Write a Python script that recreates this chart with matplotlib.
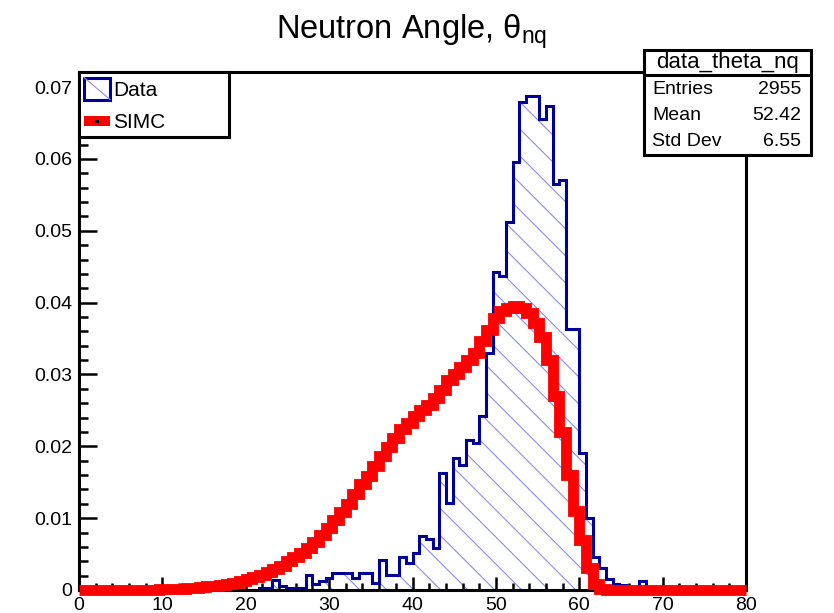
import numpy as np
import matplotlib.pyplot as plt
from matplotlib.patches import Rectangle, PathPatch
from matplotlib.path import Path
from matplotlib.collections import LineCollection
from matplotlib.ticker import MultipleLocator, FuncFormatter

plt.rcParams['font.family'] = ['Liberation Sans', 'DejaVu Sans']
plt.rcParams['mathtext.fontset'] = 'custom'
plt.rcParams['mathtext.rm'] = 'Liberation Sans'
plt.rcParams['mathtext.it'] = 'Liberation Sans:italic'

# 100 bins, 0 -> 80 deg
bin_edges = np.linspace(0, 80, 101)

# Data, normalised
data_theta_nq = [
    0, 0, 0, 0, 0, 0, 0, 0, 0, 0,
    0, 0, 0, 0, 0, 0, 0, 0, 0, 0,
    0, 0, 0, 0, 0, 0, 0, 0.0003, 0.0003, 0.0014,
    0.0006, 0.0003, 0.0003, 0.0003, 0.0021, 0.0009, 0.0013, 0.0017, 0.0023, 0.0024,
    0.0024, 0.0017, 0.0023, 0.0023, 0.0010, 0.0042, 0.0021, 0.0021, 0.0046, 0.0037,
    0.0051, 0.0075, 0.0071, 0.0059, 0.0163, 0.0121, 0.0184, 0.0174, 0.0209, 0.0205,
    0.0242, 0.0330, 0.0443, 0.0437, 0.0512, 0.0596, 0.0679, 0.0687, 0.0687, 0.0655,
    0.0674, 0.0565, 0.0570, 0.0363, 0.0363, 0.0191, 0.0100, 0.0046, 0.0030, 0.0016,
    0.0008, 0.0007, 0.0003, 0.0003, 0.0013, 0, 0, 0, 0, 0,
    0, 0, 0, 0, 0, 0, 0, 0, 0, 0,
]

# SIMC, normalised
simc_theta_nq = [
    0, 0, 0, 0, 0, 0, 0, 0, 0, 0,
    0, 0, 0.0001, 0.0001, 0.0002, 0.0002, 0.0003, 0.0003, 0.0004, 0.0005,
    0.0006, 0.0007, 0.0009, 0.0010, 0.0012, 0.0015, 0.0018, 0.0021, 0.0025, 0.0029,
    0.0034, 0.0040, 0.0046, 0.0052, 0.0059, 0.0067, 0.0076, 0.0086, 0.0097, 0.0108,
    0.0120, 0.0133, 0.0147, 0.0159, 0.0173, 0.0186, 0.0199, 0.0212, 0.0224, 0.0233,
    0.0242, 0.0250, 0.0258, 0.0267, 0.0278, 0.0292, 0.0300, 0.0310, 0.0320, 0.0330,
    0.0347, 0.0362, 0.0378, 0.0388, 0.0393, 0.0395, 0.0393, 0.0385, 0.0372, 0.0352,
    0.0320, 0.0270, 0.0220, 0.0160, 0.0110, 0.0070, 0.0030, 0.0008, 0.0002, 0,
    0, 0, 0, 0, 0, 0, 0, 0, 0, 0,
    0, 0, 0, 0, 0, 0, 0, 0, 0, 0,
]

legend_labels = ["Data", "SIMC"]
stat_title = "data_theta_nq"
stat_labels = ["Entries", "Mean", "Std Dev"]
stat_values = ["2955", "52.42", "6.55"]

W, H = 834, 613
blue = '#000099'
red = '#ff0000'
hatch_col = '#8c8cf0'


def frac(x0, y0, x1, y1):
    # pixel box (top-left origin) -> figure fraction
    return [x0 / W, 1 - y1 / H, (x1 - x0) / W, (y1 - y0) / H]


fig = plt.figure(figsize=(W / 100, H / 100), dpi=100)
ax = fig.add_axes(frac(79, 72, 746, 590))

ymax = 0.0721
ax.set_xlim(0, 80)
ax.set_ylim(0, ymax)

# hatched fill under the data histogram
xs = np.repeat(bin_edges, 2)
ys = np.concatenate([[0], np.repeat(data_theta_nq, 2), [0]])
clip = PathPatch(Path(np.column_stack([xs, ys])), transform=ax.transData,
                 facecolor='none', edgecolor='none')
ax.add_patch(clip)

px_x = 667 / 80
px_y = 518 / ymax
k = px_x / px_y
step = 27 / px_y
cs = np.arange(0, ymax + 80 * k + step, step) + 0.4 * step
segs = [[(0, c), (80, c - 80 * k)] for c in cs]
hatch = LineCollection(segs, colors=hatch_col, linewidths=0.8, zorder=1)
ax.add_collection(hatch)
hatch.set_clip_path(clip)

h1 = ax.stairs(data_theta_nq, bin_edges, color=blue, linewidth=2.2, baseline=0, zorder=2)
h2 = ax.stairs(simc_theta_nq, bin_edges, color=red, linewidth=7.8, baseline=0, zorder=3)
h2.set_clip_on(False)
for h in (h1, h2):
    h.set_joinstyle('miter')
    h.set_capstyle('butt')

ax.xaxis.set_major_locator(MultipleLocator(10))
ax.xaxis.set_minor_locator(MultipleLocator(2))
ax.yaxis.set_major_locator(MultipleLocator(0.01))
ax.yaxis.set_minor_locator(MultipleLocator(0.002))
ax.xaxis.set_major_formatter(FuncFormatter(lambda v, p: f'{v:.0f}'))
ax.yaxis.set_major_formatter(FuncFormatter(lambda v, p: '0' if abs(v) < 1e-9 else f'{v:.2f}'))
ax.tick_params(axis='both', which='both', direction='in', top=False, right=False,
               width=1.8, labelsize=14)
ax.tick_params(axis='x', which='major', length=9.5, pad=5)
ax.tick_params(axis='x', which='minor', length=5)
ax.tick_params(axis='y', which='major', length=13, pad=5)
ax.tick_params(axis='y', which='minor', length=6.5)
for s in ax.spines.values():
    s.set_linewidth(2.2)

# title
fig.text(412 / W, 1 - 39 / H, r'Neutron Angle, $\mathrm{\theta}_{\mathrm{nq}}$',
         ha='center', va='baseline', fontsize=23.5)

# legend box
leg = fig.add_axes(frac(79, 72, 229, 137))
leg.set_xlim(0, 150)
leg.set_ylim(65, 0)
leg.set_xticks([])
leg.set_yticks([])
for s in leg.spines.values():
    s.set_linewidth(2.2)
leg.add_patch(Rectangle((5, 5.5), 26, 22, facecolor='white', edgecolor=blue, lw=2.2))
leg.plot([5, 31], [5.5, 27.5], color=hatch_col, lw=0.8)
leg.text(34, 18, legend_labels[0], va='center', fontsize=15)
leg.add_patch(Rectangle((5, 44), 26, 10, facecolor=red, edgecolor='none'))
leg.add_patch(Rectangle((16, 47.5), 3.5, 3, facecolor='black', edgecolor='none'))
leg.text(34, 50, legend_labels[1], va='center', fontsize=15)

# stats box
st = fig.add_axes(frac(644, 50, 811, 155))
st.set_xlim(0, 167)
st.set_ylim(105, 0)
st.set_xticks([])
st.set_yticks([])
for s in st.spines.values():
    s.set_linewidth(2.2)
st.axhline(25, color='black', lw=2.2)
st.text(83.5, 12.5, stat_title, ha='center', va='center', fontsize=16)
for i, (lab, val) in enumerate(zip(stat_labels, stat_values)):
    yy = 40 + 25.5 * i
    st.text(8, yy, lab, ha='left', va='center', fontsize=14)
    st.text(157, yy, val, ha='right', va='center', fontsize=14)

fig.savefig('out.png', dpi=100)
